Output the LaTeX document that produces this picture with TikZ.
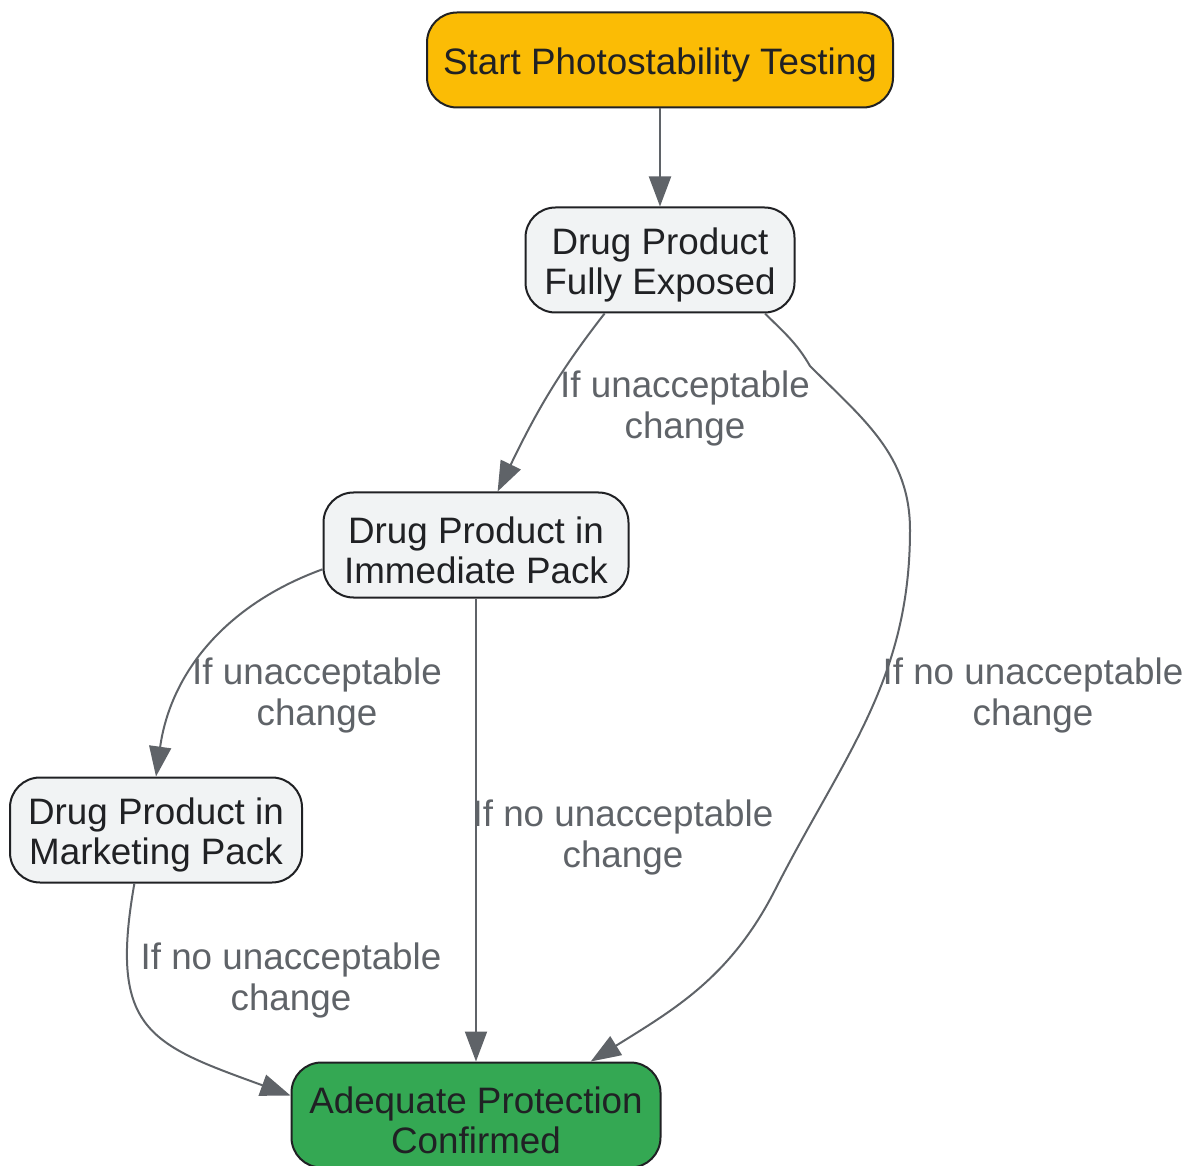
\documentclass[tikz,border=0pt]{standalone}
\usepackage{fontspec}
\setmainfont{Liberation Sans}
\usetikzlibrary{arrows.meta}

\definecolor{startyellow}{HTML}{FBBC05}
\definecolor{boxgray}{HTML}{F1F3F4}
\definecolor{okgreen}{HTML}{34A853}
\definecolor{inkdark}{HTML}{202124}
\definecolor{edgegray}{HTML}{5F6368}

\newcommand{\padtop}{\rule{0pt}{18.4pt}}

\begin{document}
\begin{tikzpicture}[x=0.5pt,y=0.5pt,
    stepbox/.style={draw=inkdark,line width=1pt,rounded corners=15pt,align=center,
      text=inkdark,font=\fontsize{18.4}{20}\selectfont,minimum height=52.5pt,inner sep=0pt},
    edge/.style={draw=edgegray,line width=1pt,-{Triangle[length=15pt,width=11pt]}},
    cond/.style={text=edgegray,align=center,font=\fontsize{18.4}{20.5}\selectfont}]
%    \draw[orange,thin] (0,0) grid[step=100] (1190,-1166);
    \useasboundingbox (0,0) rectangle (1190,-1166);

    % boxes
    \node[stepbox,fill=startyellow,minimum width=233pt,minimum height=47.5pt] (start) at (660,-60) {\padtop Start Photostability Testing};
    \node[stepbox,fill=boxgray,minimum width=134.5pt] (fully) at (660,-260) {\padtop Drug Product\\Fully Exposed};
    \node[stepbox,fill=boxgray,minimum width=152.5pt] (immed) at (476,-545) {\padtop Drug Product in\\Immediate Pack};
    \node[stepbox,fill=boxgray,minimum width=146pt] (market) at (156,-830) {\padtop Drug Product in\\Marketing Pack};
    \node[stepbox,fill=okgreen,minimum width=184.5pt] (adeq) at (476,-1115) {\padtop Adequate Protection\\Confirmed};

    % conditions
    \node[cond] (cond1) at (685,-403) {\padtop If unacceptable\\change};
    \node[cond] (cond2) at (317,-690) {\padtop If unacceptable\\change};
    \node[cond] (cond3) at (623,-832) {\padtop If no unacceptable\\change};
    \node[cond] (cond4) at (291,-975) {\padtop If no unacceptable\\change};
    \node[cond] (cond5) at (1033,-690) {\padtop If no unacceptable\\change};

    % long way round on the right
    \coordinate (bend1) at (810,-366);
    \coordinate (bend2) at (910,-530);
    \coordinate (bend3) at (775,-890);

    \draw[edge] (start) -- (fully);
    \draw[edge] (fully.-136) to[out=-128,in=64] (immed.68);
    \draw[edge] (fully.-27) to[out=-45,in=120] (bend1) to[out=-45,in=90] (bend2)
        to[out=-90,in=63] (bend3) to[out=-117,in=32] (adeq.25);
    \draw[edge] (immed) -- (adeq);
    \draw[edge] (immed.189) to[out=-160,in=82] (market.north);
    \draw[edge] (market.-112) to[out=-100,in=160,looseness=1.45] (adeq.174);

\end{tikzpicture}
\end{document}
